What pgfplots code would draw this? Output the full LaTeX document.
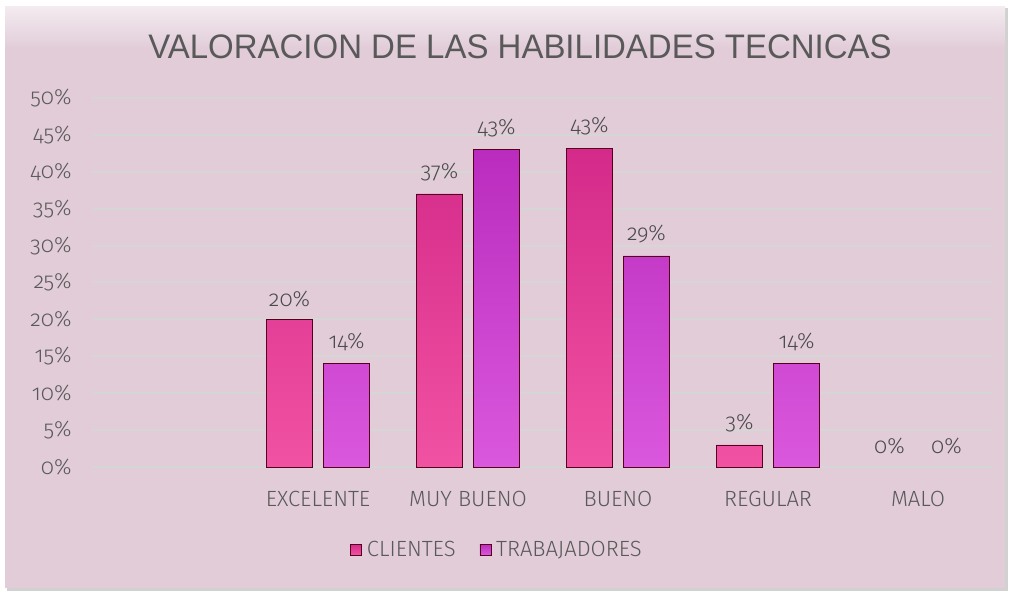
\documentclass[border=0pt]{standalone}
\usepackage{pgfplots}
\pgfplotsset{compat=1.18}
\usepackage{fontspec}
\setmainfont{Fira Sans Light}[Numbers=OldStyle]
\newfontfamily\titlefont{Liberation Sans}
\definecolor{bgpink}{HTML}{E1CCD8}
\definecolor{txtgrey}{HTML}{595959}
\definecolor{lblgrey}{HTML}{4A4A4A}
\definecolor{gridc}{HTML}{D6D6D6}
\definecolor{cliTop}{HTML}{D42A8A}
\definecolor{cliBot}{HTML}{F152A2}
\definecolor{traTop}{HTML}{BA2CBE}
\definecolor{traBot}{HTML}{DA58DD}
\begin{document}
\begin{tikzpicture}[x=1pt,y=1pt]
\path[use as bounding box] (0,0) rectangle (1011,594);
\fill[black!18] (7,3) rectangle (1008,586);
\fill[bgpink] (5,6) rectangle (1005,587);
\shade[top color=bgpink!40!white, bottom color=bgpink] (5,545) rectangle (1005,587);
\node[font=\titlefont\fontsize{34}{38}\selectfont, text=txtgrey, xscale=0.97] at (520,547) {VALORACION DE LAS HABILIDADES TECNICAS};
\begin{axis}[
  at={(93pt,127pt)}, anchor=south west,
  scale only axis, width=900pt, height=369pt,
  xmin=-0.5, xmax=5.5, ymin=0, ymax=50,
  axis line style={draw=none},
  ybar, bar width=0.31,
  xtick={1,2,3,4,5},
  xticklabels={EXCELENTE,MUY BUENO,BUENO,REGULAR,MALO},
  ytick={0,5,...,50},
  yticklabel={\pgfmathprintnumber{\tick}\%},
  /pgf/number format/assume math mode=true,
  ymajorgrids, major grid style={gridc, line width=2pt},
  tick style={draw=none},
  ticklabel style={text=txtgrey},
  yticklabel style={font=\fontsize{22}{25}\selectfont, xshift=-18pt},
  xticklabel style={font=\fontsize{22}{25}\selectfont, yshift=-16pt},
  nodes near coords={\pgfmathprintnumber[fixed,precision=0]{\pgfplotspointmeta}\%},
  nodes near coords style={font=\fontsize{22}{25}\selectfont, text=lblgrey, anchor=south, yshift=9pt},
  every axis plot/.append style={draw=black!55!purple, line width=0.7pt},
  legend style={at={(0.449,-0.225)}, anchor=center, draw=none, fill=none,
    legend columns=2, font=\fontsize{22}{25}\selectfont, text=txtgrey,
    /tikz/every even column/.append style={column sep=22pt},
    /tikz/every odd column/.append style={column sep=0pt}},
  legend image code/.code={\path[#1, line width=0.4pt] (0pt,-5pt) rectangle (11pt,6pt); \path (14pt,0pt);},
]
\addplot[bar shift=-0.19, top color=cliTop, bottom color=cliBot] coordinates {(1,20) (2,37) (3,43.2) (4,3)};
\addplot[bar shift=0.19, top color=traTop, bottom color=traBot] coordinates {(1,14) (2,43) (3,28.6) (4,14)};
\addplot[forget plot, bar shift=-0.19, draw=none, fill=none] coordinates {(5,0)};
\addplot[forget plot, bar shift=0.19, draw=none, fill=none] coordinates {(5,0)};
\legend{CLIENTES,TRABAJADORES}
\end{axis}
\end{tikzpicture}
\end{document}
